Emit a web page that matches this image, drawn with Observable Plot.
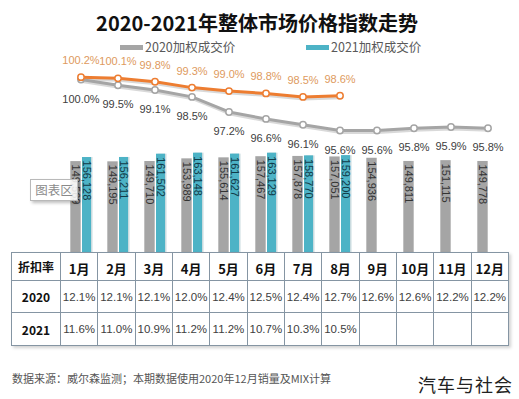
<!DOCTYPE html>
<html><head><meta charset="utf-8">
<script src="https://cdn.jsdelivr.net/npm/d3@7"></script>
<script src="https://cdn.jsdelivr.net/npm/@observablehq/plot@0.6"></script>
<style>
body{margin:0;background:#fff;}
#root{position:relative;width:519px;height:399px;overflow:hidden;background:#fff;font-family:"Noto Sans CJK SC","Liberation Sans",sans-serif;}
.abs{position:absolute;}
#title{left:0;width:514px;top:8px;text-align:center;font-size:20px;font-weight:700;color:#111;line-height:30px;}
.leg{top:39px;font-size:12.5px;color:#595959;line-height:16px;white-space:nowrap;}
.sw{display:inline-block;width:23px;height:5px;vertical-align:middle;margin-right:2px;position:relative;top:-1px;}
table{border-collapse:collapse;table-layout:fixed;box-shadow:2px 2px 3px rgba(0,0,0,0.18);background:#fff;}
td{border:1px solid #8595a3;text-align:center;padding:0;font-family:"Liberation Sans","Noto Sans CJK SC",sans-serif;font-size:11.5px;color:#404040;white-space:nowrap;overflow:hidden;}
td.h{font-weight:700;color:#111;font-family:"Noto Sans CJK SC",sans-serif;}
td.m{font-weight:700;color:#111;font-size:13px;font-family:"Noto Sans CJK SC",sans-serif;vertical-align:bottom;padding-bottom:2px;}
#tip{left:30px;top:179px;width:46px;height:20px;border:1px solid #b9b9b9;background:rgba(255,255,255,0.85);box-shadow:2px 2px 3px rgba(0,0,0,0.25);font-size:12.5px;color:#8a8a8a;line-height:20px;text-align:center;}
#foot{left:12px;top:370px;font-size:11px;color:#555;white-space:nowrap;}
#brand{left:418px;top:371px;font-size:18px;color:#222;letter-spacing:1px;white-space:nowrap;}
</style></head><body><div id="root"></div>
<script>
// ---- data ----
const months = ["1月","2月","3月","4月","5月","6月","7月","8月","9月","10月","11月","12月"];
const seriesNames = ["2020加权成交价","2021加权成交价"];
const price2020 = [149569,149195,149710,153989,155614,157467,157878,157051,154936,149811,151115,149778];
const price2021 = [156128,156211,161502,163148,161627,163129,158770,159200];
const index2020 = [100.0,99.5,99.1,98.5,97.2,96.6,96.1,95.6,95.6,95.8,95.9,95.8];
const index2021 = [100.2,100.1,99.8,99.3,99.0,98.8,98.5,98.6];
const tableHeader = "折扣率";
const rowYears = ["2020","2021"];
const discount2020 = [12.1,12.1,12.1,12.0,12.4,12.5,12.4,12.7,12.6,12.6,12.2,12.2];
const discount2021 = [11.6,11.0,10.9,11.2,11.2,10.7,10.3,10.5];
const titleText = "2020-2021年整体市场价格指数走势";
const footText = "数据来源：威尔森监测；本期数据使用2020年12月销量及MIX计算";
const brandText = "汽车与社会";
const tipText = "图表区";

// ---- styles ----
const C_GRAY = "#A5A5A5", C_TEAL = "#4DB3C6", C_ORANGE = "#ED7D31";
const root = document.getElementById("root");
function el(tag, cls, id, html){const e=document.createElement(tag); if(cls) e.className=cls; if(id) e.id=id; if(html!=null) e.innerHTML=html; root.appendChild(e); return e;}

el("div","abs","title",titleText);
const l1 = el("div","abs leg",null,`<span class="sw" style="background:${C_GRAY}"></span>${seriesNames[0]}`); l1.style.left="120px";
const l2 = el("div","abs leg",null,`<span class="sw" style="background:${C_TEAL}"></span>${seriesNames[1]}`); l2.style.left="306px";

const common = {width:519,height:196,marginLeft:60,marginRight:11,marginTop:0,marginBottom:0,
  x:{type:"band",domain:months,padding:0,axis:null}, style:{background:"transparent",overflow:"visible"}};

const d20 = months.map((m,i)=>({m,v:price2020[i]}));
const d21 = price2021.map((v,i)=>({m:months[i],v}));
const fmt = d3.format(",");

const bars = Plot.plot({...common,
  y:{domain:[0,315560],axis:null},
  marks:[
    Plot.barY(d21,{x:"m",y:"v",fill:"#2a6f80",fillOpacity:0.25,insetLeft:21.5,insetRight:6.5}),
    Plot.barY(d20,{x:"m",y:"v",fill:C_GRAY,insetLeft:8.3,insetRight:18.3}),
    Plot.barY(d21,{x:"m",y:"v",fill:C_TEAL,insetLeft:20,insetRight:8}),
    Plot.text(d20,{x:"m",y:"v",text:d=>fmt(d.v),rotate:90,textAnchor:"start",dx:-5,dy:3,fontSize:11,fill:"#333",fontFamily:"Liberation Sans"}),
    Plot.text(d21,{x:"m",y:"v",text:d=>fmt(d.v),rotate:90,textAnchor:"start",dx:6,dy:3,fontSize:11,fill:"#123a47",fontFamily:"Liberation Sans"})
  ]});
bars.style.position="absolute"; bars.style.left="0px"; bars.style.top="58px";
root.appendChild(bars);

const i20 = months.map((m,i)=>({m,v:index2020[i]}));
const i21 = index2021.map((v,i)=>({m:months[i],v}));
const pf = v=>v.toFixed(1)+"%";
const lines = Plot.plot({...common,
  y:{domain:[84.91,101.81],axis:null},
  marks:[
    Plot.line(i20,{x:"m",y:"v",stroke:"#000",strokeOpacity:0.15,strokeWidth:3,dy:2,dx:1}),
    Plot.line(i21,{x:"m",y:"v",stroke:"#000",strokeOpacity:0.15,strokeWidth:3,dy:2,dx:1}),
    Plot.line(i20,{x:"m",y:"v",stroke:C_GRAY,strokeWidth:3}),
    Plot.line(i21,{x:"m",y:"v",stroke:C_ORANGE,strokeWidth:3}),
    Plot.dot(i20,{x:"m",y:"v",r:3.2,fill:"white",stroke:C_GRAY,strokeWidth:1.5}),
    Plot.dot(i21,{x:"m",y:"v",r:3.2,fill:"white",stroke:C_ORANGE,strokeWidth:1.5}),
    Plot.text(i20,{x:"m",y:"v",text:d=>pf(d.v),dy:19.5,fontSize:11,fill:"#404040",fontFamily:"Liberation Sans"}),
    Plot.text(i21,{x:"m",y:"v",text:d=>pf(d.v),dy:-16.5,fontSize:11,fill:"#DE9A5E",fontFamily:"Liberation Sans"})
  ]});
lines.style.position="absolute"; lines.style.left="0px"; lines.style.top="58px";
root.appendChild(lines);

// table
const tbl = el("table","abs");
tbl.style.left="11px"; tbl.style.top="252px"; tbl.style.width="497px";
const cg = document.createElement("colgroup");
cg.innerHTML = `<col style="width:49px">` + months.map(()=>`<col style="width:37.33px">`).join("");
tbl.appendChild(cg);
const tb = document.createElement("tbody"); tbl.appendChild(tb);
const r0 = document.createElement("tr"); r0.style.height="28px";
r0.innerHTML = `<td class="h" style="font-size:12px;vertical-align:middle">${tableHeader}</td>` + months.map(m=>`<td class="m">${m}</td>`).join("");
tb.appendChild(r0);
[discount2020, discount2021].forEach((arr,k)=>{
  const r = document.createElement("tr"); r.style.height = k===0 ? "32px" : "33px";
  r.innerHTML = `<td class="h" style="font-size:12px">${rowYears[k]}</td>` + months.map((m,i)=>`<td>${arr[i]!=null?arr[i].toFixed(1)+"%":""}</td>`).join("");
  tb.appendChild(r);
});

el("div","abs","tip",tipText);
el("div","abs","foot",footText);
el("div","abs","brand",brandText);
</script></body></html>
